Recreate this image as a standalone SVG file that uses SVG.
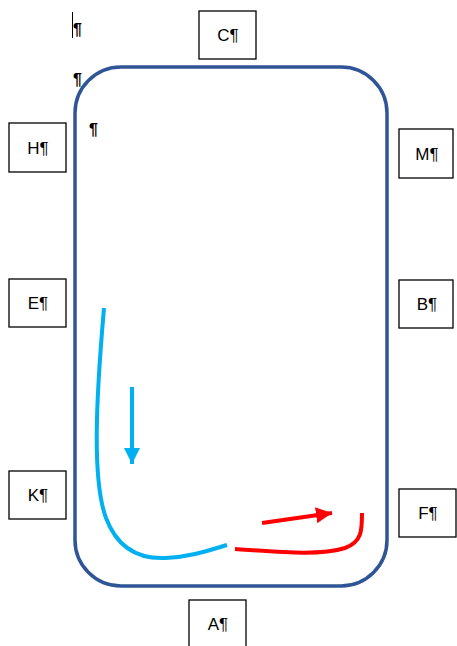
<svg xmlns="http://www.w3.org/2000/svg" width="457" height="646" viewBox="0 0 457 646">
<style>
.box{fill:#fff;stroke:#000;stroke-width:1.3}
.lbl{font-family:"Liberation Sans",Arial,sans-serif;font-size:17px;fill:#000;text-anchor:middle;dominant-baseline:central}
.mark{font-family:"Liberation Sans",Arial,sans-serif;font-size:16px;fill:#000;font-weight:bold}
</style>
<defs>
<marker id="ahBlue" markerWidth="4" markerHeight="4" refX="4" refY="2" orient="auto" markerUnits="strokeWidth" viewBox="0 0 4 4"><path d="M0,0 L4,2 L0,4 z" fill="#00B0F0"/></marker>
<marker id="ahRed" markerWidth="4" markerHeight="4" refX="4" refY="2" orient="auto" markerUnits="strokeWidth" viewBox="0 0 4 4"><path d="M0,0 L4,2 L0,4 z" fill="#FF0000"/></marker>
</defs>
<rect id="track" x="75" y="67" width="312" height="519" rx="46" ry="46" fill="none" stroke="#2F5597" stroke-width="3.5"/>
<g id="marks">
<line x1="72.5" y1="12" x2="72.5" y2="38" stroke="#000" stroke-width="1"/>
<text class="mark" x="73" y="35">¶</text>
<text class="mark" x="73" y="85">¶</text>
<text class="mark" x="89" y="135">¶</text>
</g>
<g id="C"><rect class="box" x="199" y="11" width="57" height="48"/><text class="lbl" x="228" y="35">C¶</text></g>
<g id="H"><rect class="box" x="9" y="123" width="57" height="49"/><text class="lbl" x="38" y="148">H¶</text></g>
<g id="E"><rect class="box" x="9" y="279" width="57" height="48"/><text class="lbl" x="38" y="303">E¶</text></g>
<g id="K"><rect class="box" x="9" y="471" width="57" height="48"/><text class="lbl" x="38" y="495">K¶</text></g>
<g id="M"><rect class="box" x="399" y="129" width="54" height="49"/><text class="lbl" x="427" y="154">M¶</text></g>
<g id="B"><rect class="box" x="399" y="280" width="54" height="48"/><text class="lbl" x="427" y="304">B¶</text></g>
<g id="F"><rect class="box" x="399" y="489" width="57" height="48"/><text class="lbl" x="428" y="513">F¶</text></g>
<g id="A"><rect class="box" x="189" y="600" width="57" height="50"/><text class="lbl" x="218" y="624">A¶</text></g>
<g id="connectors" fill="none">
<path d="M104,308 C96,400 92,480 106,518 C118,550 140,559 165,558 C190,557 210,550 227,545" stroke="#00B0F0" stroke-width="4"/>
<line x1="132" y1="387" x2="132" y2="464" stroke="#00B0F0" stroke-width="4" marker-end="url(#ahBlue)"/>
<path d="M235,549 C280,552 320,556 345,548 C362,542 362,530 362,513" stroke="#FF0000" stroke-width="4"/>
<line x1="262" y1="523" x2="332" y2="513" stroke="#FF0000" stroke-width="4" marker-end="url(#ahRed)"/>
</g>
</svg>
